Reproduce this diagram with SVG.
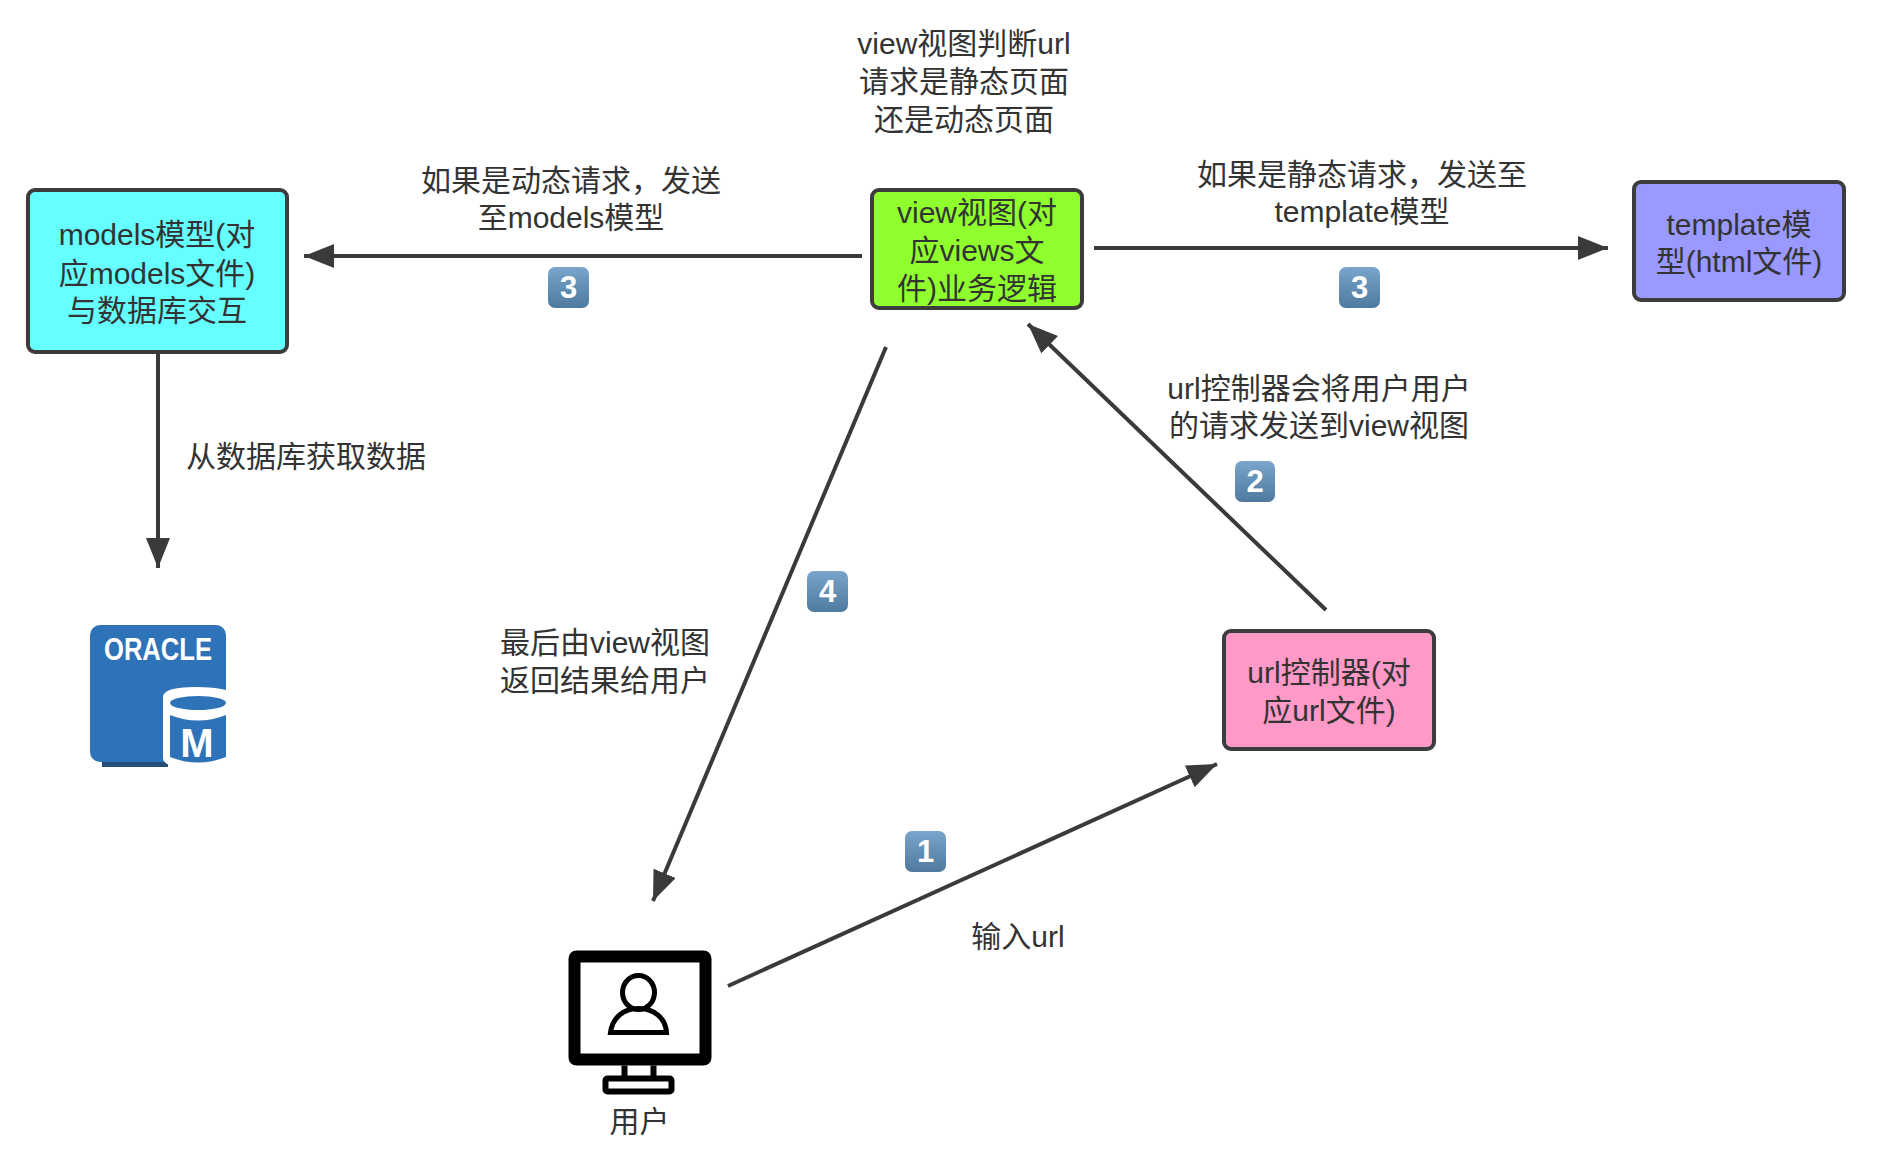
<svg xmlns="http://www.w3.org/2000/svg" width="1882" height="1152" viewBox="0 0 1882 1152">
<style>
text{font-family:"Liberation Sans","Noto Sans CJK SC",sans-serif;font-size:30px;fill:#333;text-anchor:middle}
.box{stroke:#3c3c3c;stroke-width:4}
.c{stroke:#3a3a3a;stroke-width:4;fill:none;marker-end:url(#arr)}
.b{fill:url(#kc)}
text.k{font-size:31px;font-weight:bold;fill:#fff}
</style>
<defs>
<marker id="arr" markerUnits="userSpaceOnUse" markerWidth="32" markerHeight="26" refX="30" refY="12" orient="auto"><path d="M0 0L30 12L0 24Z" fill="#3a3a3a"/></marker>
<linearGradient id="kc" x1="0" y1="0" x2="0" y2="1"><stop offset="0" stop-color="#7aa5cc"/><stop offset="1" stop-color="#4f7a9e"/></linearGradient>
</defs>
<rect width="1882" height="1152" fill="#fff"/>
<g id="connectors">
<path class="c" d="M862 256H304"/>
<path class="c" d="M1094 248H1608"/>
<path class="c" d="M158 352V568"/>
<path class="c" d="M1326 610L1028 324"/>
<path class="c" d="M886 347L653 901"/>
<path class="c" d="M728 986L1217 764"/>
</g>
<g id="models"><rect class="box" x="28" y="190" width="259" height="162" rx="7" fill="#66ffff"/><text x="157" y="245">models模型(对</text><text x="157" y="284">应models文件)</text><text x="157" y="321">与数据库交互</text></g>
<g id="view"><rect class="box" x="872" y="190" width="210" height="118" rx="7" fill="#8fff2e"/><text x="977" y="223">view视图(对</text><text x="977" y="261">应views文</text><text x="977" y="299">件)业务逻辑</text></g>
<g id="template"><rect class="box" x="1634" y="182" width="210" height="118" rx="7" fill="#9999ff"/><text x="1739" y="235">template模</text><text x="1739" y="272">型(html文件)</text></g>
<g id="url"><rect class="box" x="1224" y="631" width="210" height="118" rx="7" fill="#ff99c8"/><text x="1329" y="683">url控制器(对</text><text x="1329" y="721">应url文件)</text></g>
<g id="oracle">
<rect x="102" y="758" width="66" height="9" fill="#254f78"/>
<rect x="90" y="625" width="136" height="137" rx="10" fill="#2e72b8"/>
<text x="158" y="660" style="font-size:32px;font-weight:bold;fill:#fff;font-family:'Liberation Sans Narrow','Liberation Sans',sans-serif" textLength="108" lengthAdjust="spacingAndGlyphs">ORACLE</text>
<path d="M163 697Q163 687 195 687Q215 687 226 690V768H195Q163 768 163 758Z" fill="#fff"/>
<ellipse cx="198" cy="703" rx="28" ry="7" fill="#2e72b8"/>
<path d="M170 715Q198 726 226 715V757Q198 768 170 757Z" fill="#2e72b8"/>
<text x="197" y="757" style="font-size:40px;font-weight:bold;fill:#fff">M</text>
</g>
<g id="user">
<g transform="translate(-1.500 -2.500)">
<rect x="576" y="959" width="131" height="103" rx="2" fill="#fff" stroke="#000" stroke-width="12"/>
<path d="M626 1068V1081M655 1068V1081" stroke="#000" stroke-width="6"/>
<rect x="607" y="1081" width="66" height="13" rx="2" fill="#fff" stroke="#000" stroke-width="6"/>
<ellipse cx="640" cy="995" rx="16" ry="17" fill="none" stroke="#000" stroke-width="5"/>
<path d="M612 1035C614 1020 625 1011 640 1011C655 1011 667 1020 668 1035Z" fill="none" stroke="#000" stroke-width="5"/>
</g>
<text x="639.500" y="1132">用户</text>
</g>
<g id="labels">
<text x="964" y="54">view视图判断url</text><text x="964" y="92">请求是静态页面</text><text x="964" y="130">还是动态页面</text>
<text x="571" y="191">如果是动态请求，发送</text><text x="571" y="228">至models模型</text>
<text x="1362" y="185">如果是静态请求，发送至</text><text x="1362" y="222">template模型</text>
<text x="306" y="467">从数据库获取数据</text>
<text x="1319" y="399">url控制器会将用户用户</text><text x="1319" y="436">的请求发送到view视图</text>
<text x="605" y="653">最后由view视图</text><text x="605" y="691">返回结果给用户</text>
<text x="1018" y="947">输入url</text>
</g>
<g id="badges">
<rect class="b" x="548" y="267" width="41" height="41" rx="7"/><text class="k" x="568.500" y="298">3</text>
<rect class="b" x="1339" y="267" width="41" height="41" rx="7"/><text class="k" x="1359.500" y="298">3</text>
<rect class="b" x="1235" y="461" width="40" height="41" rx="7"/><text class="k" x="1255" y="492">2</text>
<rect class="b" x="807" y="571" width="41" height="41" rx="7"/><text class="k" x="827.500" y="602">4</text>
<rect class="b" x="905" y="831" width="41" height="41" rx="7"/><text class="k" x="925.500" y="862">1</text>
</g>
</svg>
